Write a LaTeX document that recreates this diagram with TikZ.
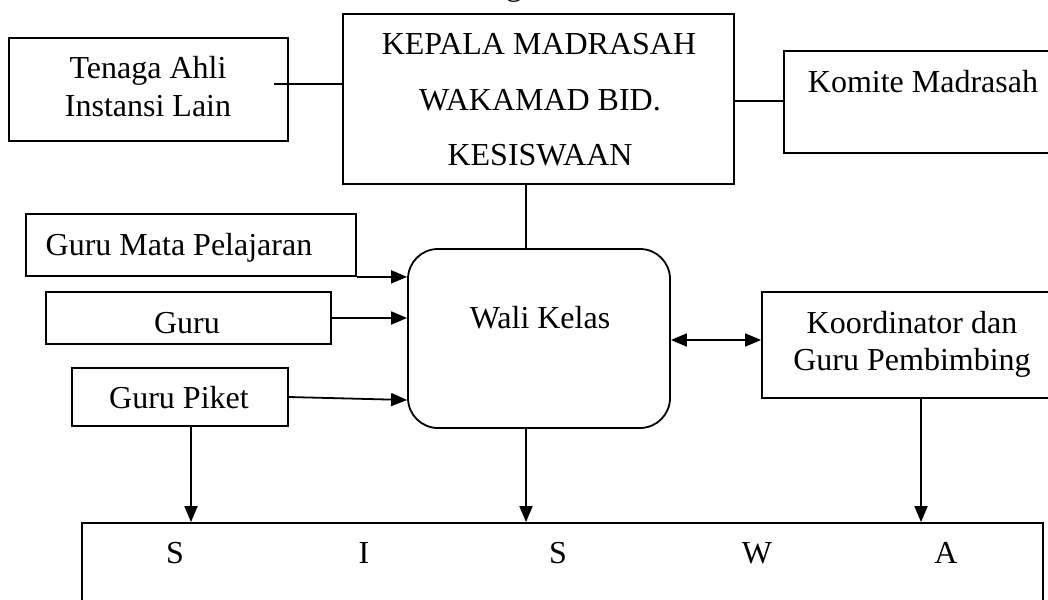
\documentclass[tikz,border=0pt]{standalone}
\usepackage{fontspec}
\setmainfont{Liberation Serif}
\usetikzlibrary{arrows.meta}
\begin{document}
\begin{tikzpicture}[x=0.5pt,y=-0.5pt,
  box/.style={draw, line width=0.9pt, inner sep=0pt},
  txt/.style={anchor=base, inner sep=0pt, font=\fontsize{16}{19}\selectfont},
  conn/.style={line width=0.9pt},
  arr/.style={line width=0.9pt, -{Triangle[length=8pt,width=6.5pt]}},
  arrboth/.style={line width=0.9pt, {Triangle[length=8pt,width=6.5pt]}-{Triangle[length=8pt,width=6.5pt]}}]
\useasboundingbox (0,0) rectangle (1048,599);
\clip (0,0) rectangle (1048,599);
\fill[white] (0,0) rectangle (1048,599);

% boxes
\node[box, minimum width=195.5pt, minimum height=85pt] (kep) at (538.5,99) {};
\node[box, minimum width=139.5pt, minimum height=51.5pt] (ten) at (148.5,89.5) {};
\node[box, minimum width=158pt, minimum height=51pt] (kom) at (942,102) {};
\node[box, rounded corners=15pt, minimum width=131pt, minimum height=89.5pt] (wali) at (539,338.5) {};
\node[box, minimum width=169pt, minimum height=53pt] (koo) at (931,345) {};
\node[box, minimum width=165pt, minimum height=31pt] (gmp) at (191,245) {};
\node[box, minimum width=142.5pt, minimum height=26pt] (guru) at (188.5,318) {};
\node[box, minimum width=108pt, minimum height=29pt] (piket) at (180,397) {};
\node[box, minimum width=480.5pt, minimum height=63.5pt] (siswa) at (562.5,586.5) {};

% texts
\node[txt] (ttl) at (514,-4) {g};
\node[txt] (kep1) at (539,55) {KEPALA MADRASAH};
\node[txt] (kep2) at (540,111) {WAKAMAD BID.};
\node[txt] (kep3) at (540,165) {KESISWAAN};
\node[txt] (ten1) at (148,79) {Tenaga Ahli};
\node[txt] (ten2) at (148,117) {Instansi Lain};
\node[txt] (komt) at (923,92) {Komite Madrasah};
\node[txt] (gmpt) at (179,255) {Guru Mata Pelajaran};
\node[txt] (gurut) at (187,333) {Guru};
\node[txt] (pikett) at (179,408) {Guru Piket};
\node[txt] (walit) at (540,328) {Wali Kelas};
\node[txt] (koo1) at (912,333) {Koordinator dan};
\node[txt] (koo2) at (912,370) {Guru Pembimbing};
\node[txt] (s1) at (175,563) {S};
\node[txt] (s2) at (364,563) {I};
\node[txt] (s3) at (558,563) {S};
\node[txt] (s4) at (757,563) {W};
\node[txt] (s5) at (946,563) {A};

% connectors
\coordinate (tk) at (274,84);
\draw[conn] (tk) -- (tk -| kep.west);
\coordinate (kk) at (734,101);
\draw[conn] (kk -| kep.east) -- (kk -| kom.west);
\coordinate (kw) at (526,0);
\draw[conn] (kw |- kep.south) -- (kw |- wali.north);
\draw[arr] (gmp.south east) -- (gmp.south east -| wali.west);
\draw[arr] (guru.east) -- (guru.east -| wali.west);
\draw[arr] (piket.east) -- ([yshift=-1.5pt]piket.east -| wali.west);
\coordinate (wk) at (0,340);
\draw[arrboth] (wk -| wali.east) -- (wk -| koo.west);
\coordinate (c1) at (191,0);
\draw[arr] (c1 |- piket.south) -- (c1 |- siswa.north);
\draw[arr] (kw |- wali.south) -- (kw |- siswa.north);
\coordinate (c3) at (921,0);
\draw[arr] (c3 |- koo.south) -- (c3 |- siswa.north);
\end{tikzpicture}
\end{document}
